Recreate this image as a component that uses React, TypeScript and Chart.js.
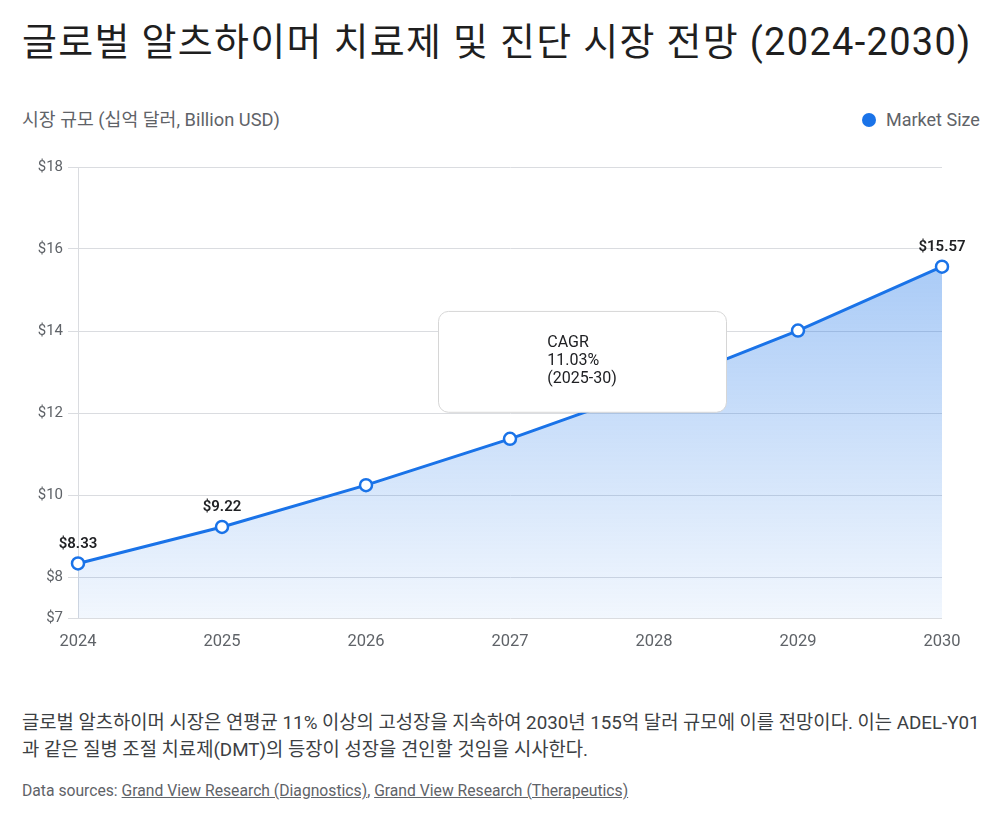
import React, { useEffect, useRef } from "react";
import { Chart, registerables } from "chart.js";

Chart.register(...registerables);

const FONT = "Roboto, 'Noto Sans CJK KR', 'Noto Sans', sans-serif";

const years = ["2024", "2025", "2026", "2027", "2028", "2029", "2030"];
const marketSize = [8.33, 9.22, 10.24, 11.37, 12.62, 14.01, 15.57];
const yTicks = [7, 8, 10, 12, 14, 16, 18];
const labeledIndices = [0, 1, 6];
const cagrLines = ["CAGR", "11.03%", "(2025-30)"];
const cagrBoxX = [2.5, 4.5];
const cagrBoxY = [14.49, 12.03];

const titleText = "글로벌 알츠하이머 치료제 및 진단 시장 전망 (2024-2030)";
const subtitleText = "시장 규모 (십억 달러, Billion USD)";
const legendText = "Market Size";
const bodyLine1 = "글로벌 알츠하이머 시장은 연평균 11% 이상의 고성장을 지속하여 2030년 155억 달러 규모에 이를 전망이다. 이는 ADEL-Y01";
const bodyLine2 = "과 같은 질병 조절 치료제(DMT)의 등장이 성장을 견인할 것임을 시사한다.";
const sources = ["Grand View Research (Diagnostics)", "Grand View Research (Therapeutics)"];

const BLUE = "#1a73e8";

const overlayPlugin = {
  id: "overlay",
  afterDatasetsDraw(chart: any) {
    const ctx = chart.ctx;
    const meta = chart.getDatasetMeta(0);
    ctx.save();
    ctx.font = `600 15px ${FONT}`;
    ctx.fillStyle = "#202124";
    ctx.textAlign = "center";
    ctx.textBaseline = "bottom";
    labeledIndices.forEach((i) => {
      const p = meta.data[i];
      ctx.fillText("$" + marketSize[i].toFixed(2), p.x, p.y - 12);
    });

    const xs = chart.scales.x;
    const ys = chart.scales.y;
    const x0 = xs.getPixelForValue(cagrBoxX[0]);
    const x1 = xs.getPixelForValue(cagrBoxX[1]);
    const y0 = ys.getPixelForValue(cagrBoxY[0]);
    const y1 = ys.getPixelForValue(cagrBoxY[1]);
    ctx.beginPath();
    ctx.roundRect(x0 + 0.5, y0 + 0.5, x1 - x0, y1 - y0, 10);
    ctx.fillStyle = "#ffffff";
    ctx.fill();
    ctx.strokeStyle = "#d6d6d6";
    ctx.lineWidth = 1;
    ctx.stroke();

    ctx.font = `16px ${FONT}`;
    ctx.fillStyle = "#202124";
    ctx.textAlign = "left";
    ctx.textBaseline = "middle";
    const maxW = Math.max(...cagrLines.map((l) => ctx.measureText(l).width));
    const cx = (x0 + x1) / 2;
    const cy = (y0 + y1) / 2;
    cagrLines.forEach((l, i) => {
      ctx.fillText(l, cx - maxW / 2, cy + (i - 1) * 18);
    });
    ctx.restore();
  },
};

function MarketChart() {
  const ref = useRef<HTMLCanvasElement | null>(null);
  useEffect(() => {
    if (!ref.current) return;
    const chart = new Chart(ref.current, {
      type: "line",
      data: {
        labels: years,
        datasets: [
          {
            label: legendText,
            data: marketSize,
            borderColor: BLUE,
            borderWidth: 3,
            pointRadius: 6,
            pointHoverRadius: 6,
            pointBackgroundColor: "#ffffff",
            pointBorderColor: BLUE,
            pointBorderWidth: 2.5,
            tension: 0,
            fill: "start",
            backgroundColor: (c: any) => {
              const area = c.chart.chartArea;
              if (!area) return "rgba(26,115,232,0.2)";
              const g = c.chart.ctx.createLinearGradient(0, area.top, 0, area.bottom);
              g.addColorStop(0, "rgba(26,115,232,0.46)");
              g.addColorStop(1, "rgba(26,115,232,0.06)");
              return g;
            },
          },
        ],
      },
      options: {
        animation: false,
        responsive: false,
        maintainAspectRatio: false,
        layout: { padding: { left: 0, right: 36, top: 19, bottom: 0 } },
        plugins: {
          legend: { display: false },
          tooltip: { enabled: false },
        },
        scales: {
          x: {
            grid: { display: false, drawTicks: false },
            border: { display: false },
            ticks: {
              padding: 14,
              color: "#5f6368",
              font: { size: 16.5, family: FONT },
              maxRotation: 0,
            },
            afterFit: (s: any) => {
              s.height = 40;
            },
          },
          y: {
            min: 7,
            max: 18,
            afterBuildTicks: (s: any) => {
              s.ticks = yTicks.map((v) => ({ value: v }));
            },
            ticks: {
              padding: 5,
              color: "#5f6368",
              font: { size: 15, family: FONT },
              callback: (v: any) => "$" + v,
            },
            grid: { color: "#dadce0", tickLength: 10 },
            border: { display: true, color: "#dadce0" },
            afterFit: (s: any) => {
              s.width = 70;
            },
          },
        },
      },
      plugins: [overlayPlugin],
    });
    return () => chart.destroy();
  }, []);
  return <canvas ref={ref} width={970} height={510} style={{ display: "block" }} />;
}

export default function App() {
  return (
    <div style={{ position: "relative", width: 984, height: 804, fontFamily: FONT }}>
      <div
        style={{
          position: "absolute",
          left: 14,
          top: 11,
          fontSize: 38,
          letterSpacing: "1.3px",
          lineHeight: "46px",
          color: "#1f1f1f",
          whiteSpace: "nowrap",
        }}
      >
        {titleText}
      </div>
      <div
        style={{
          position: "absolute",
          left: 14,
          top: 101,
          fontSize: 18.3,
          lineHeight: "22px",
          color: "#5f6368",
          whiteSpace: "nowrap",
        }}
      >
        {subtitleText}
      </div>
      <div
        style={{
          position: "absolute",
          left: 854,
          top: 101,
          height: 22,
          display: "flex",
          alignItems: "center",
          whiteSpace: "nowrap",
        }}
      >
        <span
          style={{
            display: "inline-block",
            width: 14,
            height: 14,
            borderRadius: "50%",
            background: BLUE,
            marginRight: 10,
          }}
        />
        <span style={{ fontSize: 18, color: "#5f6368", lineHeight: "22px" }}>{legendText}</span>
      </div>
      <div style={{ position: "absolute", left: 0, top: 140 }}>
        <MarketChart />
      </div>
      <div
        style={{
          position: "absolute",
          left: 14,
          top: 702,
          fontSize: 18.8,
          lineHeight: "27px",
          color: "#3c4043",
          whiteSpace: "nowrap",
        }}
      >
        {bodyLine1}
        <br />
        {bodyLine2}
      </div>
      <div
        style={{
          position: "absolute",
          left: 14,
          top: 773,
          fontSize: 15.7,
          lineHeight: "20px",
          color: "#5f6368",
          whiteSpace: "nowrap",
        }}
      >
        Data sources:{" "}
        <span style={{ textDecoration: "underline" }}>{sources[0]}</span>,{" "}
        <span style={{ textDecoration: "underline" }}>{sources[1]}</span>
      </div>
    </div>
  );
}
